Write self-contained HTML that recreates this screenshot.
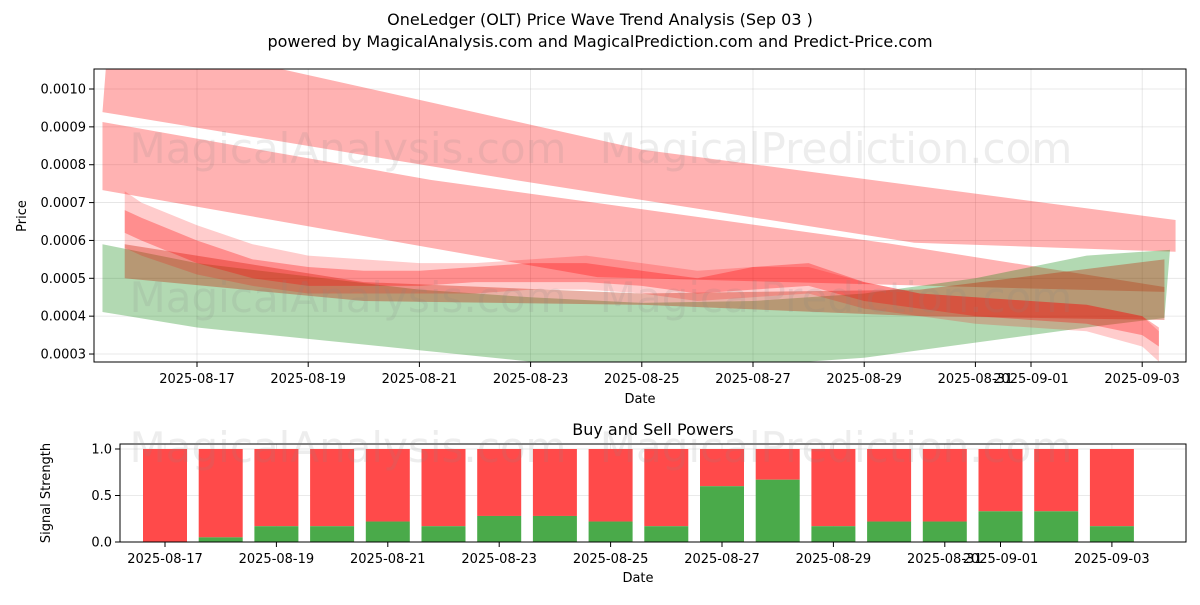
<!DOCTYPE html>
<html><head><meta charset="utf-8"><style>
body{margin:0;background:#fff;font-family:"Liberation Sans","DejaVu Sans",sans-serif}
svg text{font-family:"DejaVu Sans","Liberation Sans",sans-serif}
</style></head><body>
<svg id="c" width="1200" height="600" xmlns="http://www.w3.org/2000/svg">
<defs>
<clipPath id="mc"><rect x="94" y="69" width="1092" height="293"/></clipPath>
<clipPath id="bc"><rect x="120" y="444" width="1066" height="98"/></clipPath>
</defs>
<text x="600" y="25" text-anchor="middle" font-size="16">OneLedger (OLT) Price Wave Trend Analysis (Sep 03 )</text>
<text x="600" y="47" text-anchor="middle" font-size="16">powered by MagicalAnalysis.com and MagicalPrediction.com and Predict-Price.com</text>
<g id="main"></g>
<g id="bot"></g>
</svg>
<script>
// Dates as day-of-August (32 = Sep 1)
const bandDates1U=[15.4,18.6,25.0,34.6]; const band1U=[0.00113,0.00105,0.00084,0.000654];
const bandDates1L=[15.3,22.7,29.9,34.6]; const band1L=[0.000939,0.00076,0.000594,0.00057];
const bandDates2U=[15.3,21.2,29.4,34.4]; const band2U=[0.000913,0.00076,0.000593,0.000477];
const bandDates2L=[15.3,24.2,34.4]; const band2L=[0.000733,0.000503,0.000464];
const greenDatesU=[15.3,17,19,21,23,25,27,29,31,33,34.5]; const greenU=[0.00059,0.00054,0.000505,0.00047,0.00045,0.000435,0.00044,0.00046,0.0005,0.00056,0.000575];
const greenDatesL=[15.3,17,19,21,23,25,27,29,31,33,34.4]; const greenL=[0.000411,0.00037,0.00034,0.00031,0.00028,0.00026,0.00027,0.00029,0.00033,0.00037,0.000395];
const redDates=[15.7,20,25,30,34.4]; const redU=[0.00059,0.00049,0.00046,0.00047,0.00055]; const redL=[0.00050,0.00044,0.00043,0.00040,0.00039];
const clDates=[15.7,16,17,18,19,20,21,22,23,24,25,26,27,28,29,30,31,32,33,34,34.3];
const clU1=[0.00068,0.00066,0.00060,0.00055,0.00053,0.00052,0.00052,0.00053,0.00054,0.00054,0.00052,0.00050,0.00053,0.00054,0.00049,0.00046,0.00045,0.00044,0.00043,0.00040,0.00037];
const clL1=[0.00062,0.00060,0.00054,0.00050,0.00048,0.00048,0.00048,0.00049,0.00049,0.00049,0.00048,0.00046,0.00047,0.00048,0.00044,0.00042,0.00040,0.00039,0.00038,0.00035,0.00032];
const clU2=[0.00073,0.00070,0.00064,0.00059,0.00056,0.00055,0.00054,0.00054,0.00055,0.00056,0.00054,0.00052,0.00053,0.00053,0.00049,0.00046,0.00045,0.00044,0.00043,0.00040,0.00036];
const clL2=[0.00058,0.00056,0.00051,0.00048,0.00046,0.00046,0.00046,0.00046,0.00047,0.00047,0.00046,0.00044,0.00045,0.00046,0.00042,0.00040,0.00038,0.00037,0.00036,0.00032,0.00028];
const yTicks=[0.0003,0.0004,0.0005,0.0006,0.0007,0.0008,0.0009,0.0010];
const xTickDays=[17,19,21,23,25,27,29,31,32,34];
const xTickLabels=["2025-08-17","2025-08-19","2025-08-21","2025-08-23","2025-08-25","2025-08-27","2025-08-29","2025-08-31","2025-09-01","2025-09-03"];
const barDays=[17,18,19,20,21,22,23,24,25,26,27,28,29,30,31,32,33,34];
const buyVals=[0,0.05,0.17,0.17,0.22,0.17,0.28,0.28,0.22,0.17,0.6,0.67,0.17,0.22,0.22,0.33,0.33,0.17];
const sigTicks=[0,0.5,1.0]; const sigLabels=["0.0","0.5","1.0"];
const NS="http://www.w3.org/2000/svg";
const X=d=>197+(d-17)*55.6, Y=v=>89+(0.0010-v)/0.0001*37.86;
const BX=d=>165+(d-17)*55.7, BY=v=>542-v*93;
function mk(p,t,a){const e=document.createElementNS(NS,t);for(const k in a)e.setAttribute(k,a[k]);p.appendChild(e);return e;}
const main=document.getElementById('main'), bot=document.getElementById('bot');
function grid(g,x0,x1,y0,y1,xs,ys){xs.forEach(x=>{const l=mk(g,'line',{x1:x,x2:x,y1:y0,y2:y1,stroke:'#b0b0b0','stroke-opacity':0.35,'stroke-width':0.8});});ys.forEach(y=>{const l=mk(g,'line',{x1:x0,x2:x1,y1:y,y2:y,stroke:'#b0b0b0','stroke-opacity':0.35,'stroke-width':0.8});});}
grid(main,94,1186,69,362,xTickDays.map(X),yTicks.map(Y));
const mg=mk(main,'g',{'clip-path':'url(#mc)'});
function band(dU,U,dL,L,fill,op,name){const pts=dU.map((d,i)=>X(d)+','+Y(U[i])).concat(dL.map((d,i)=>X(d)+','+Y(L[i])).reverse());const p=mk(mg,'polygon',{points:pts.join(' '),fill:fill,'fill-opacity':op});}
band(bandDates1U,band1U,bandDates1L,band1L,'#ff0000',0.3,'upper-red-band');
band(bandDates2U,band2U,bandDates2L,band2L,'#ff0000',0.3,'middle-red-band');
band(greenDatesU,greenU,greenDatesL,greenL,'#008000',0.3,'green-band');
band(redDates,redU,redDates,redL,'#c02000',0.35,'lower-red-band');
band(clDates,clU2,clDates,clL2,'#ff0000',0.2,'wave-cluster-outer');
band(clDates,clU1,clDates,clL1,'#ff0000',0.3,'wave-cluster-inner');
[[348,163,'MagicalAnalysis.com'],[836,163,'MagicalPrediction.com'],[348,312,'MagicalAnalysis.com'],[836,312,'MagicalPrediction.com'],[348,462,'MagicalAnalysis.com'],[836,462,'MagicalPrediction.com']].forEach(w=>{const t=mk(document.getElementById('c'),'text',{x:w[0],y:w[1],'text-anchor':'middle','font-size':42,fill:'#888','fill-opacity':0.15});t.textContent=w[2];});
mk(main,'rect',{x:94,y:69,width:1092,height:293,fill:'none',stroke:'#000','stroke-width':1});
yTicks.forEach(v=>{mk(main,'line',{x1:89,x2:94,y1:Y(v),y2:Y(v),stroke:'#000'});const t=mk(main,'text',{x:86,y:Y(v)+4.5,'text-anchor':'end','font-size':13});t.textContent=v.toFixed(4);});
xTickDays.forEach((d,i)=>{mk(main,'line',{x1:X(d),x2:X(d),y1:362,y2:367,stroke:'#000'});const t=mk(main,'text',{x:X(d),y:383,'text-anchor':'middle','font-size':13});t.textContent=xTickLabels[i];});
let t=mk(main,'text',{x:640,y:403,'text-anchor':'middle','font-size':13});t.textContent='Date';
t=mk(main,'text',{x:26,y:216,'text-anchor':'middle','font-size':13,transform:'rotate(-90 26 216)'});t.textContent='Price';
grid(bot,120,1186,444,542,xTickDays.map(BX),sigTicks.map(BY));
const bg=mk(bot,'g',{'clip-path':'url(#bc)'});
barDays.forEach((d,i)=>{const x=BX(d)-22;const r=mk(bg,'rect',{x:x,y:BY(1),width:44,height:BY(buyVals[i])-BY(1),fill:'#ff4a4a'});const g=mk(bg,'rect',{x:x,y:BY(buyVals[i]),width:44,height:542-BY(buyVals[i]),fill:'#4aaa4a'});});
mk(bot,'rect',{x:120,y:444,width:1066,height:98,fill:'none',stroke:'#000','stroke-width':1});
sigTicks.forEach((v,i)=>{mk(bot,'line',{x1:115,x2:120,y1:BY(v),y2:BY(v),stroke:'#000'});const t=mk(bot,'text',{x:112,y:BY(v)+4.5,'text-anchor':'end','font-size':13});t.textContent=sigLabels[i];});
xTickDays.forEach((d,i)=>{mk(bot,'line',{x1:BX(d),x2:BX(d),y1:542,y2:547,stroke:'#000'});const t=mk(bot,'text',{x:BX(d),y:563,'text-anchor':'middle','font-size':13});t.textContent=xTickLabels[i];});
t=mk(bot,'text',{x:653,y:435,'text-anchor':'middle','font-size':16});t.textContent='Buy and Sell Powers';
t=mk(bot,'text',{x:638,y:582,'text-anchor':'middle','font-size':13});t.textContent='Date';
t=mk(bot,'text',{x:50,y:493,'text-anchor':'middle','font-size':13,transform:'rotate(-90 50 493)'});t.textContent='Signal Strength';
</script>
</body></html>
